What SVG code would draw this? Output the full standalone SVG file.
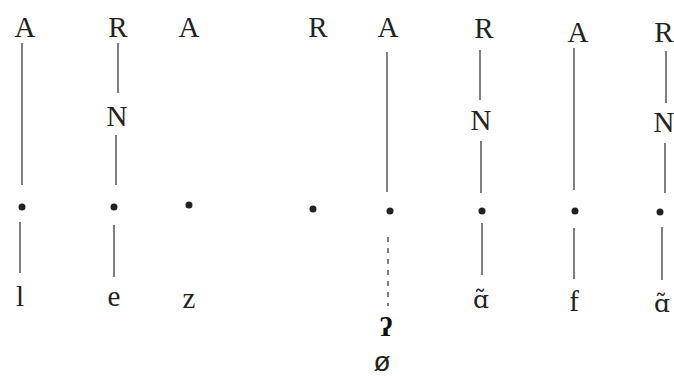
<svg xmlns="http://www.w3.org/2000/svg" width="674" height="377" viewBox="0 0 674 377">
<style>
text{font-family:"Liberation Serif","DejaVu Serif",serif;font-size:29px;fill:#222;text-anchor:middle}
.ln{stroke:#555;stroke-width:1.5;fill:none}
.dash{stroke:#555;stroke-width:1.5;stroke-dasharray:5 6;fill:none}
.dot{fill:#222}
.gs{font-weight:bold;font-size:28px;fill:#111}
.nas{font-family:"DejaVu Serif",serif;font-size:25px}
.null{font-family:"Liberation Sans","DejaVu Sans",sans-serif;font-size:28px}
</style>
<rect width="674" height="377" fill="#fff"/>
<g id="connectors">
<line class="ln" x1="22" y1="43" x2="22" y2="185"/>
<line class="ln" x1="20" y1="222" x2="20" y2="273"/>
<line class="ln" x1="118" y1="43" x2="118" y2="93"/>
<line class="ln" x1="116" y1="135" x2="116" y2="185"/>
<line class="ln" x1="114" y1="225" x2="114" y2="277"/>
<line class="ln" x1="387" y1="52" x2="387" y2="192"/>
<line class="dash" x1="388" y1="237" x2="388" y2="306"/>
<line class="ln" x1="480" y1="50" x2="480" y2="100"/>
<line class="ln" x1="481" y1="141" x2="481" y2="193"/>
<line class="ln" x1="482" y1="223" x2="482" y2="275"/>
<line class="ln" x1="574" y1="48" x2="574" y2="190"/>
<line class="ln" x1="574" y1="228" x2="574" y2="279"/>
<line class="ln" x1="666" y1="51" x2="666" y2="103"/>
<line class="ln" x1="665" y1="143" x2="665" y2="193"/>
<line class="ln" x1="662" y1="227" x2="662" y2="280"/>
</g>
<g id="col1">
<text x="25" y="37">A</text>
<circle class="dot" cx="22" cy="207" r="3.5"/>
<text x="20" y="306">l</text>
</g>
<g id="col2">
<text x="118" y="37">R</text>
<text x="117" y="126">N</text>
<circle class="dot" cx="114" cy="207" r="3.5"/>
<text x="114" y="306">e</text>
</g>
<g id="col3">
<text x="189" y="37">A</text>
<circle class="dot" cx="189" cy="205" r="3.5"/>
<text x="189" y="308">z</text>
</g>
<g id="col4">
<text x="318" y="37">R</text>
<circle class="dot" cx="313" cy="209" r="3.5"/>
</g>
<g id="col5">
<text x="388" y="37">A</text>
<circle class="dot" cx="390" cy="211" r="3.5"/>
<text class="gs" x="386" y="336">ʔ</text>
<text class="null" x="382" y="371">ø</text>
</g>
<g id="col6">
<text x="484" y="38">R</text>
<text x="481" y="130">N</text>
<circle class="dot" cx="482" cy="211" r="3.5"/>
<text class="nas" x="481" y="308">ɑ̃</text>
</g>
<g id="col7">
<text x="578" y="42">A</text>
<circle class="dot" cx="575" cy="211" r="3.5"/>
<text x="574" y="311">f</text>
</g>
<g id="col8">
<text x="664" y="42">R</text>
<text x="664" y="132">N</text>
<circle class="dot" cx="660" cy="212" r="3.5"/>
<text class="nas" x="662" y="312">ɑ̃</text>
</g>
</svg>
